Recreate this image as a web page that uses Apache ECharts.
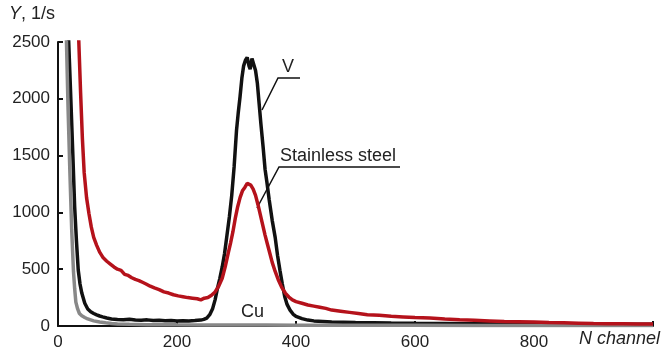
<!DOCTYPE html>
<html>
<head>
<meta charset="utf-8">
<script src="https://cdn.jsdelivr.net/npm/echarts@6/dist/echarts.min.js"></script>
<style>html,body{margin:0;padding:0;background:#fff;}#c{width:665px;height:351px;}</style>
</head>
<body>
<div id="c"></div>
<script>
var xTicks = [0, 200, 400, 600, 800, 1000];
var yTicks = [0, 500, 1000, 1500, 2000, 2500];

var vanadium = [[12,3400],[15,2950],[18,2500],[21,2080],[25,1500],[28,1050],[31,750],[34,493],[37,370],[40,290],[45,200],[50,150],[55,125],[60,110],[65,98],[70,88],[75,80],[82,70],[90,62],[100,58],[110,55],[120,60],[130,52],[140,50],[150,54],[160,48],[170,50],[180,46],[190,49],[200,44],[210,47],[220,45],[230,48],[240,52],[245,58],[250,70],[255,100],[260,155],[264,230],[268,330],[272,420],[276,520],[280,640],[284,800],[288,960],[292,1150],[296,1400],[300,1720],[303,1880],[306,2020],[309,2180],[312,2290],[315,2340],[318,2365],[321,2290],[323,2260],[326,2355],[329,2340],[332,2250],[335,2140],[338,1960],[341,1780],[345,1560],[348,1380],[351,1270],[355,1110],[360,930],[365,780],[369,620],[373,490],[377,370],[381,260],[385,190],[390,140],[395,105],[400,85],[410,65],[420,52],[430,45],[445,40],[460,35],[480,33],[500,30],[530,28],[560,26],[600,24],[650,22],[700,20],[750,19],[800,18],[850,17],[900,16],[950,15],[1000,15]];

var copper = [[8,3600],[11,3100],[14,2550],[17,1900],[20,1350],[23,850],[26,480],[28,330],[30,210],[33,150],[36,110],[40,90],[45,75],[50,62],[60,45],[70,35],[80,28],[90,22],[100,18],[120,15],[150,12],[200,10],[250,9],[300,8],[350,8],[400,7],[500,6],[600,6],[700,5],[800,5],[900,4],[1000,4]];

var steel = [[28,3500],[31,3000],[35,2500],[38,2050],[41,1650],[44,1350],[48,1130],[52,990],[56,870],[60,780],[65,710],[70,650],[76,600],[82,570],[88,545],[94,520],[100,500],[106,490],[112,455],[118,445],[124,425],[130,410],[136,400],[142,385],[148,370],[155,350],[162,335],[170,320],[178,300],[186,290],[194,275],[202,265],[210,258],[218,250],[226,245],[234,240],[240,230],[246,245],[252,250],[258,270],[264,300],[270,350],[276,420],[281,520],[286,640],[290,730],[294,830],[298,950],[302,1050],[306,1130],[310,1190],[314,1220],[318,1255],[321,1265],[324,1240],[328,1205],[332,1150],[336,1070],[340,980],[344,890],[348,800],[352,720],[356,640],[360,560],[365,480],[370,410],[376,340],[382,290],[388,255],[394,230],[400,215],[410,200],[420,185],[430,175],[440,165],[450,155],[460,140],[475,130],[490,120],[505,110],[520,100],[540,95],[560,85],[580,80],[600,75],[625,70],[650,62],[675,55],[700,50],[725,45],[750,40],[775,38],[800,35],[825,30],[850,28],[875,25],[900,22],[925,20],[950,20],[975,18],[1000,18]];

var FONT = '"Liberation Sans", Arial, sans-serif';
var chart = echarts.init(document.getElementById('c'), null, {renderer: 'canvas'});
chart.setOption({
  animation: false,
  backgroundColor: '#fff',
  grid: {left: 58, right: 12, top: 42, bottom: 25, containLabel: false},
  xAxis: {
    type: 'value', min: xTicks[0], max: xTicks[xTicks.length-1], interval: 200,
    axisLine: {lineStyle: {color: '#111', width: 2}},
    axisTick: {inside: true, length: 5, lineStyle: {color: '#111', width: 2}},
    splitLine: {show: false},
    axisLabel: {fontFamily: FONT, fontSize: 17, color: '#222', margin: 8,
      formatter: function(v){ return v === 1000 ? '' : String(v); }}
  },
  yAxis: {
    type: 'value', min: yTicks[0], max: yTicks[yTicks.length-1], interval: 500,
    axisLine: {show: true, lineStyle: {color: '#111', width: 2}},
    axisTick: {show: true, inside: true, length: 5, lineStyle: {color: '#111', width: 2}},
    splitLine: {show: false},
    axisLabel: {fontFamily: FONT, fontSize: 17, color: '#222', margin: 8,
      formatter: function(v){ return String(v); }}
  },
  series: [
    {type: 'line', data: vanadium, showSymbol: false, clip: true, lineStyle: {color: '#111', width: 3.5}, z: 2},
    {type: 'line', data: copper, showSymbol: false, clip: true, lineStyle: {color: '#888', width: 3.5}, z: 3},
    {type: 'line', data: steel, showSymbol: false, clip: true, lineStyle: {color: '#b5121b', width: 3.5}, z: 4}
  ],
  graphic: [
    {type: 'text', left: 9, top: 5, style: {text: '{i|Y}{n|, 1/s}', rich: {
      i: {fontFamily: FONT, fontSize: 18, fontStyle: 'italic', fill: '#222'},
      n: {fontFamily: FONT, fontSize: 18, fill: '#222'}}}},
    {type: 'text', right: 5, top: 330, style: {text: 'N channel', font: 'italic 18px ' + FONT, fill: '#222'}},
    {type: 'polyline', shape: {points: [[262,110],[278,78],[300,78]]}, style: {stroke: '#111', lineWidth: 1.5, fill: null}},
    {type: 'text', left: 282, top: 58, style: {text: 'V', font: '18px ' + FONT, fill: '#222'}},
    {type: 'polyline', shape: {points: [[257,208],[279,167],[400,167]]}, style: {stroke: '#111', lineWidth: 1.5, fill: null}},
    {type: 'text', left: 280, top: 147, style: {text: 'Stainless steel', font: '18px ' + FONT, fill: '#222'}},
    {type: 'text', left: 241, top: 303, style: {text: 'Cu', font: '18px ' + FONT, fill: '#222'}}
  ]
});
</script>
</body>
</html>
